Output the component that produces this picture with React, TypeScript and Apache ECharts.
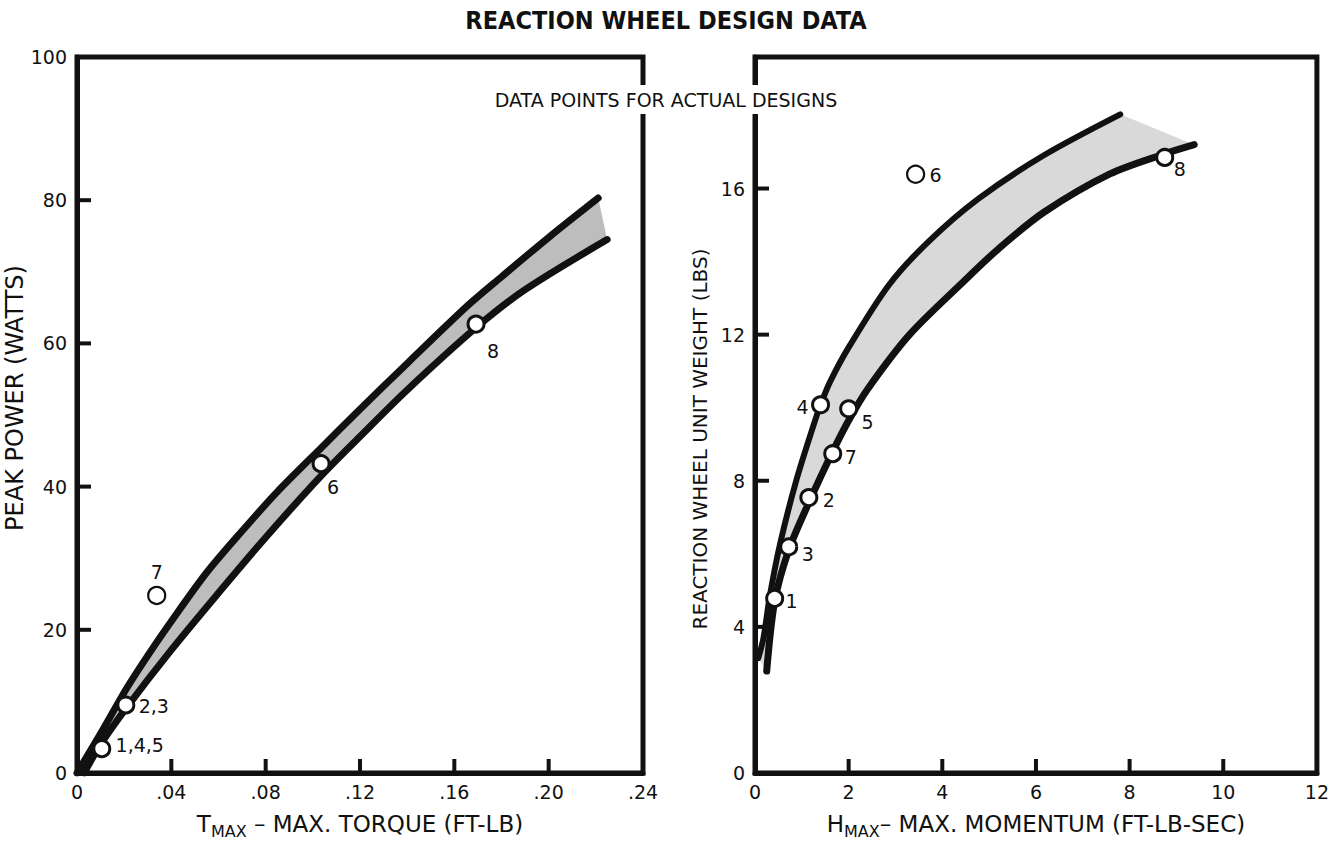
import React, { useEffect, useRef } from 'react';
import * as echarts from 'echarts';

// ---------- Left panel: peak power vs max torque ----------
const leftUpperCurve: [number, number][] = [
  [0, 0], [0.01, 5.5], [0.021, 11.8], [0.03, 16.4], [0.04, 21.2], [0.055, 28.0],
  [0.07, 33.8], [0.085, 39.3], [0.1035, 45.4], [0.12, 50.8], [0.14, 57.2],
  [0.1654, 65.2], [0.18, 69.3], [0.2, 74.8], [0.221, 80.3],
];
const leftLowerCurve: [number, number][] = [
  [0.003, 0], [0.01, 4], [0.0207, 9.0], [0.04, 17.2], [0.0596, 25], [0.08, 32.9],
  [0.1035, 41.5], [0.12, 47], [0.14, 53.5], [0.1692, 62.2], [0.19, 67.5], [0.2248, 74.5],
];
const leftPointNames = ['7', '2,3', '1,4,5', '6', '8'];
const leftPointTorque = [0.0338, 0.0207, 0.0105, 0.1035, 0.1692];
const leftPointPower = [24.8, 9.5, 3.4, 43.2, 62.7];

// ---------- Right panel: unit weight vs max momentum ----------
const rightUpperCurve: [number, number][] = [
  [0.07, 3.14], [0.18, 3.69], [0.32, 4.87], [0.53, 6.24], [0.88, 8.0], [1.27, 9.6],
  [1.4, 10.08], [1.6, 10.7], [2.0, 11.65], [2.86, 13.36], [3.7, 14.54], [4.76, 15.71],
  [6.17, 16.91], [7.8, 18.03],
];
const rightLowerCurve: [number, number][] = [
  [0.25, 2.79], [0.42, 4.7], [0.72, 6.1], [1.15, 7.4], [1.66, 8.8], [2.0, 9.65],
  [2.4, 10.5], [3.3, 12.0], [4.41, 13.4], [5.2, 14.35], [6.17, 15.35], [7.58, 16.4],
  [8.75, 16.95], [9.38, 17.2],
];
const rightPointNames = ['1', '3', '2', '4', '7', '5', '6', '8'];
const rightPointMomentum = [0.42, 0.72, 1.15, 1.4, 1.66, 2.0, 3.43, 8.75];
const rightPointWeight = [4.78, 6.19, 7.54, 10.08, 8.74, 9.97, 16.39, 16.85];

// ---------- Axis ranges and inner tick marks ----------
const torqueAxis = { min: 0, max: 0.24, interval: 0.04 };
const powerAxis = { min: 0, max: 100, interval: 20 };
const momentumAxis = { min: 0, max: 12, interval: 2 };
const weightAxis = { min: 0, max: 19.6, interval: 4 };
const torqueTicks = [0.04, 0.08, 0.12, 0.16, 0.2];
const powerTicks = [20, 40, 60, 80];
const momentumTicks = [2, 4, 6, 8, 10];
const weightTicks = [4, 8, 12, 16];

// ---------- Styling (not data) ----------
const INK = '#111';
const FONT = '"DejaVu Sans", "Noto Sans", sans-serif';
const labelOffsets: Record<string, [number, number]> = {
  'L7': [0, -23], 'L2,3': [28, 1], 'L1,4,5': [38, -4], 'L6': [12, 23], 'L8': [17, 27],
  'R1': [17, 3], 'R3': [19, 7], 'R2': [20, 2], 'R4': [-18, 2], 'R7': [18, 3],
  'R5': [19, 13], 'R6': [20, 1], 'R8': [15, 12],
};
const outliers = new Set(['L7', 'R6']);

// Band polygon plus the panel's inner tick marks, all placed through the axis scales
function bandRenderer(fill: string, xTicks: number[], yTicks: number[]) {
  return (params: any, api: any) => {
    if (params.dataIndexInside !== 0) return null;
    const n = params.dataInsideLength;
    const pts: number[][] = [];
    for (let i = 0; i < n; i++) {
      pts.push(api.coord([api.value(0, i), api.value(1, i)]));
    }
    const children: any[] = [
      { type: 'polygon', shape: { points: pts }, style: { fill, stroke: null } },
    ];
    xTicks.forEach((v) => {
      const p = api.coord([v, 0]);
      children.push({ type: 'line', shape: { x1: p[0], y1: p[1], x2: p[0], y2: p[1] - 14 }, style: { stroke: INK, lineWidth: 4 } });
    });
    yTicks.forEach((v) => {
      const p = api.coord([0, v]);
      children.push({ type: 'line', shape: { x1: p[0], y1: p[1], x2: p[0] + 14, y2: p[1] }, style: { stroke: INK, lineWidth: 4 } });
    });
    return { type: 'group', children };
  };
}

function pointsData(prefix: string, names: string[], xs: number[], ys: number[]) {
  return names.map((name, i) => {
    const key = prefix + name;
    const out = outliers.has(key);
    return {
      name,
      value: [xs[i], ys[i]],
      symbolSize: out ? 17 : 16,
      itemStyle: { color: '#fff', borderColor: INK, borderWidth: out ? 2.2 : 3, opacity: 1 },
      label: { offset: labelOffsets[key] || [18, 0] },
    };
  });
}

function makeAxis(gridIndex: number, range: any, formatter: any, name: string, nameGap: number, isX: boolean, nameSize: number, namePad: number[]) {
  return {
    type: 'value',
    gridIndex,
    min: range.min,
    max: range.max,
    interval: range.interval,
    axisLine: { show: true, onZero: false, lineStyle: { color: INK, width: 5 } },
    axisTick: { show: false },
    axisLabel: { margin: isX ? 9 : 10, fontSize: 19, color: INK, fontFamily: FONT, formatter },
    splitLine: { show: false },
    name,
    nameLocation: 'middle',
    nameGap,
    nameTextStyle: {
      color: INK,
      fontFamily: FONT,
      fontSize: nameSize,
      padding: namePad,
      rich: {
        m: { fontSize: nameSize, fontFamily: FONT, color: INK },
        s: { fontSize: 16, fontFamily: FONT, color: INK, padding: [15, 0, 0, 0] },
      },
    },
  };
}

function buildOption() {
  const leftBand = leftUpperCurve.concat(leftLowerCurve.slice().reverse());
  const rightBand = rightUpperCurve.concat(rightLowerCurve.slice().reverse());
  const curveStyle = (w: number) => ({ color: INK, width: w, cap: 'round', join: 'round' });
  const labelBase = { show: true, position: 'inside', formatter: '{b}', fontSize: 19, color: INK, fontFamily: FONT };

  return {
    animation: false,
    title: [
      {
        text: 'REACTION WHEEL DESIGN DATA',
        left: 'center',
        top: 8,
        padding: 0,
        textStyle: {
          fontFamily: '"DejaVu Sans Condensed", "DejaVu Sans", sans-serif',
          fontWeight: 'bold',
          fontSize: 25,
          color: INK,
        },
      },
      {
        text: 'DATA POINTS FOR ACTUAL DESIGNS',
        left: 'center',
        top: 85,
        padding: [5, 3, 5, 3],
        backgroundColor: '#fff',
        textStyle: { fontFamily: FONT, fontSize: 19, fontWeight: 'normal', color: INK },
      },
    ],
    grid: [
      { left: 77, top: 57, width: 566, height: 718, show: true, borderColor: INK, borderWidth: 5 },
      { left: 755, top: 57, width: 567, height: 718, show: true, borderColor: INK, borderWidth: 5 },
    ],
    xAxis: [
      makeAxis(0, torqueAxis, (v: number) => (v === 0 ? '0' : v.toFixed(2).replace(/^0\./, '.')),
        '{m|T}{s|MAX}{m| – MAX. TORQUE (FT-LB)}', 35, true, 23, [0, 0, 0, 0]),
      makeAxis(1, momentumAxis, (v: number) => String(v),
        '{m|H}{s|MAX}{m|– MAX. MOMENTUM (FT-LB-SEC)}', 35, true, 23, [0, 0, 0, 0]),
    ],
    yAxis: [
      makeAxis(0, powerAxis, (v: number) => String(v), 'PEAK POWER (WATTS)', 46, false, 24, [0, 0, 0, 34]),
      makeAxis(1, weightAxis, (v: number) => (Math.abs(v % 4) < 1e-9 ? String(v) : ''),
        'REACTION WHEEL UNIT WEIGHT (LBS)', 45, false, 20, [0, 48, 0, 0]),
    ],
    series: [
      {
        type: 'custom', xAxisIndex: 0, yAxisIndex: 0, data: leftBand, encode: { x: 0, y: 1 },
        renderItem: bandRenderer('#bdbdbd', torqueTicks, powerTicks), z: 2, clip: false,
      },
      {
        type: 'custom', xAxisIndex: 1, yAxisIndex: 1, data: rightBand, encode: { x: 0, y: 1 },
        renderItem: bandRenderer('#d9d9d9', momentumTicks, weightTicks), z: 2, clip: false,
      },
      { type: 'line', xAxisIndex: 0, yAxisIndex: 0, data: leftUpperCurve, symbol: 'none', smooth: 0.3, lineStyle: curveStyle(7), z: 3 },
      { type: 'line', xAxisIndex: 0, yAxisIndex: 0, data: leftLowerCurve, symbol: 'none', smooth: 0.3, lineStyle: curveStyle(7), z: 3 },
      { type: 'line', xAxisIndex: 1, yAxisIndex: 1, data: rightUpperCurve, symbol: 'none', smooth: 0.3, lineStyle: curveStyle(6), z: 3 },
      { type: 'line', xAxisIndex: 1, yAxisIndex: 1, data: rightLowerCurve, symbol: 'none', smooth: 0.3, lineStyle: curveStyle(7), z: 3 },
      {
        type: 'scatter', xAxisIndex: 0, yAxisIndex: 0, symbol: 'circle', z: 5, clip: false,
        itemStyle: { opacity: 1 },
        data: pointsData('L', leftPointNames, leftPointTorque, leftPointPower), label: labelBase,
      },
      {
        type: 'scatter', xAxisIndex: 1, yAxisIndex: 1, symbol: 'circle', z: 5, clip: false,
        itemStyle: { opacity: 1 },
        data: pointsData('R', rightPointNames, rightPointMomentum, rightPointWeight), label: labelBase,
      },
    ],
  };
}

export default function App() {
  const ref = useRef<HTMLDivElement>(null);
  useEffect(() => {
    if (!ref.current) return;
    const chart = echarts.init(ref.current, undefined, { renderer: 'svg' });
    chart.setOption(buildOption() as any);
    return () => chart.dispose();
  }, []);
  return (
    <div
      ref={ref}
      style={{ position: 'fixed', left: 0, top: 0, width: 1332, height: 844, background: '#fff' }}
    />
  );
}
